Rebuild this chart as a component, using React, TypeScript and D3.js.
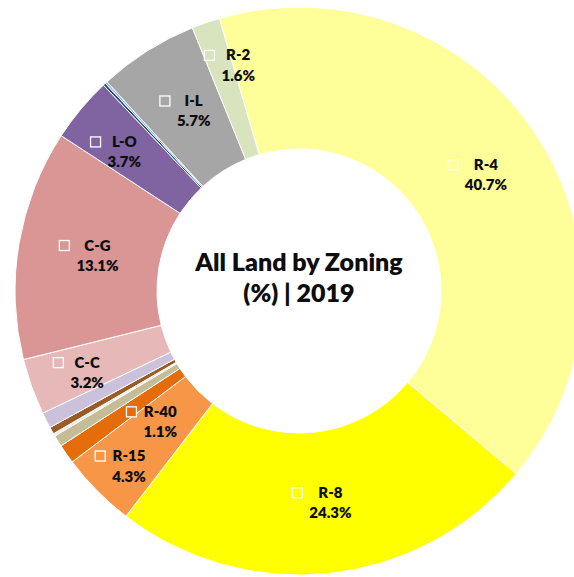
import React, { useEffect, useRef } from 'react';
import * as d3 from 'd3';

// ---- data ----
const categories = ['R-4', 'R-8', 'R-15', 'R-40', 'Other A', 'Other B', 'Other C', 'Other D', 'C-C', 'C-G', 'L-O', 'Other E', 'Other F', 'I-L', 'R-2'];
const values = [40.7, 24.3, 4.3, 1.1, 0.65, 0.15, 0.4, 0.9, 3.2, 13.1, 3.7, 0.15, 0.12, 5.7, 1.6];
const labeled = [true, true, true, true, false, false, false, false, true, true, true, false, false, true, true];
const colors = ['#FFFF99', '#FFFF00', '#F79646', '#E46C0A', '#C4BD97', '#EEECE1', '#9B5B27', '#CCC1DA', '#E6B9B8', '#D99694', '#8064A2', '#1F497D', '#8DB3E2', '#A6A6A6', '#D7E4BD'];
const titleLines = ['All Land by Zoning', '(%) | 2019'];

// label placement tweaks (extra radius px, angle offset in degrees), as in the reference
const labelAdjust: Record<string, [number, number]> = {
  'R-15': [37, 0.3],
  'R-40': [-16, -6.6],
  'C-C': [22, -0.6],
  'L-O': [17, -2.6],
  'R-2': [23, 2.1],
};

const W = 574, H = 577;
const cx = 299, cy = 291, outerR = 284, innerR = 142;
const startAngleDeg = -16.3;
const FONT = 'Lato, "Open Sans", sans-serif';

export default function App() {
  const ref = useRef<SVGSVGElement>(null);
  useEffect(() => {
    const svg = d3.select(ref.current);
    svg.selectAll('*').remove();
    const data = categories.map((c, i) => ({ name: c, value: values[i], color: colors[i], labeled: labeled[i] }));
    const start = (startAngleDeg * Math.PI) / 180;
    const pie = d3.pie<any>().value((d: any) => d.value).sort(null).startAngle(start).endAngle(start + 2 * Math.PI);
    const arcs = pie(data);
    const arc = d3.arc<any>().innerRadius(innerR).outerRadius(outerR);
    const g = svg.append('g').attr('transform', `translate(${cx},${cy})`);
    g.selectAll('path.slice')
      .data(arcs)
      .join('path')
      .attr('class', 'slice')
      .attr('d', arc as any)
      .attr('fill', (d: any) => d.data.color)
      .attr('stroke', '#ffffff')
      .attr('stroke-width', 1);

    const midR = (innerR + outerR) / 2;
    const fmt = d3.format('.1f');
    const keySize = 10;
    const gap = 7;
    arcs.filter((a: any) => a.data.labeled).forEach((a: any) => {
      const adj = labelAdjust[a.data.name] || [0, 0];
      const ang = (a.startAngle + a.endAngle) / 2 + (adj[1] * Math.PI) / 180;
      const r = midR + adj[0];
      const x = r * Math.sin(ang);
      const y = -r * Math.cos(ang);
      const lg = g.append('g');
      const nameT = lg.append('text').text(a.data.name)
        .attr('font-family', FONT).attr('font-weight', 800).attr('font-size', 15)
        .attr('text-anchor', 'middle').attr('fill', '#0d0d0d');
      const pctT = lg.append('text').text(fmt(a.data.value) + '%')
        .attr('font-family', FONT).attr('font-weight', 800).attr('font-size', 15)
        .attr('text-anchor', 'middle').attr('fill', '#0d0d0d');
      const wN = (nameT.node() as SVGTextElement).getComputedTextLength();
      const wP = (pctT.node() as SVGTextElement).getComputedTextLength();
      const colW = Math.max(wN, wP);
      const blockW = keySize + gap + colW;
      const left = x - blockW / 2;
      const colC = left + keySize + gap + colW / 2;
      const nameBase = y - 5;
      nameT.attr('x', colC).attr('y', nameBase);
      pctT.attr('x', colC).attr('y', nameBase + 20.5);
      lg.append('rect')
        .attr('x', left).attr('y', nameBase - keySize)
        .attr('width', keySize).attr('height', keySize)
        .attr('fill', a.data.color).attr('stroke', '#ffffff').attr('stroke-width', 1.3);
    });

    const tg = svg.append('g');
    titleLines.forEach((t, i) => {
      tg.append('text').text(t)
        .attr('x', cx).attr('y', cy - 20 + i * 31)
        .attr('text-anchor', 'middle')
        .attr('font-family', FONT).attr('font-weight', 800).attr('font-size', 25)
        .attr('fill', '#0d0d0d');
    });
  }, []);

  return (
    <svg
      ref={ref}
      width={W}
      height={H}
      viewBox={`0 0 ${W} ${H}`}
      style={{ position: 'absolute', left: 0, top: 0, background: '#ffffff', overflow: 'hidden' }}
    />
  );
}
